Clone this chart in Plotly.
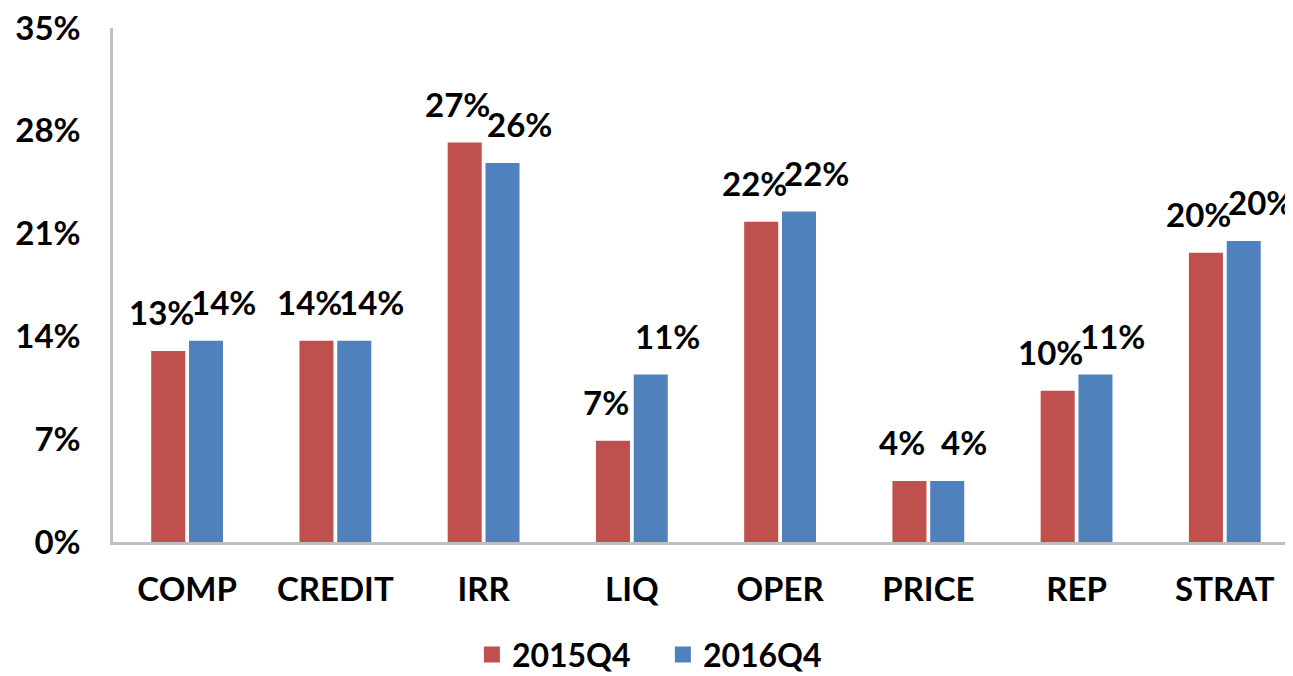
import plotly.graph_objects as go

categories = ["COMP", "CREDIT", "IRR", "LIQ", "OPER", "PRICE", "REP", "STRAT"]
series_names = ["2015Q4", "2016Q4"]
values_2015 = [13.0, 13.7, 27.2, 6.9, 21.8, 4.15, 10.3, 19.7]
values_2016 = [13.7, 13.7, 25.8, 11.4, 22.5, 4.15, 11.4, 20.5]
y_ticks = [0, 7, 14, 21, 28, 35]

colors = ["#C0504D", "#4F81BD"]
font_family = "Lato, 'Open Sans', sans-serif"
FS = 33
label_xshift = [-26, 36]

fig = go.Figure()
for name, vals, col in zip(series_names, [values_2015, values_2016], colors):
    fig.add_trace(go.Bar(
        x=categories, y=vals, name=name,
        marker=dict(color=col, line=dict(width=0)),
        showlegend=False,
    ))
    # legend proxy with bigger square symbol
    fig.add_trace(go.Scatter(
        x=[None], y=[None], mode="markers", name=name,
        marker=dict(symbol="square", size=21, color=col),
        showlegend=True,
    ))

annotations = []
for vals, xs in zip([values_2015, values_2016], label_xshift):
    for c, v in zip(categories, vals):
        annotations.append(dict(
            x=c, y=v, xref="x", yref="y", text=f"{round(v):d}%",
            showarrow=False, xanchor="center", yanchor="bottom",
            xshift=xs, yshift=17,
            font=dict(size=FS, color="black", family=font_family, weight="bold"),
        ))

fig.update_layout(
    width=1285, height=668,
    margin=dict(l=105, r=0, t=20, b=134, autoexpand=False),
    barmode="group", bargap=0.49, bargroupgap=0.1,
    plot_bgcolor="white", paper_bgcolor="white",
    font=dict(family=font_family, color="black"),
    showlegend=True,
    legend=dict(orientation="h", x=0.466, xanchor="center", y=-0.166, yanchor="top",
                font=dict(size=32, family=font_family, weight="bold"),
                itemsizing="trace", itemwidth=30, entrywidth=146,
                traceorder="normal"),
    annotations=annotations,
)
fig.update_xaxes(
    range=[-0.5, 7.46], showline=True, linecolor="#BFBFBF", linewidth=2.5,
    showgrid=False, ticks="", automargin=False,
    tickfont=dict(size=FS, family=font_family, weight="bold"),
    ticklabelstandoff=17,
)
fig.update_yaxes(
    range=[0, 35], tickvals=y_ticks, ticktext=[f"{v}%" for v in y_ticks],
    showline=True, linecolor="#BFBFBF", linewidth=2.5,
    showgrid=False, zeroline=False, ticks="", automargin=False,
    ticklabeloverflow="allow",
    tickfont=dict(size=FS, family=font_family, weight="bold"),
    ticklabelstandoff=23,
)

fig.write_html("out.html")
